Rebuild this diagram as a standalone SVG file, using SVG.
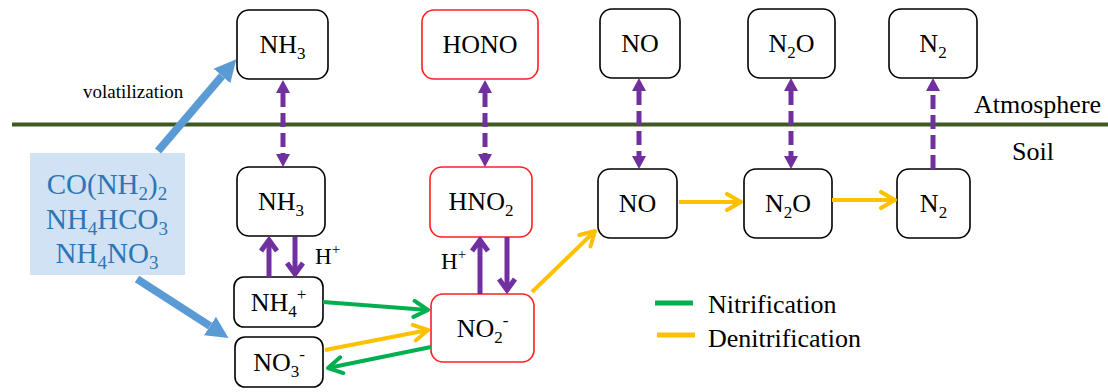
<svg xmlns="http://www.w3.org/2000/svg" width="1108" height="392" viewBox="0 0 1108 392">
  <defs>
    <marker id="triP" markerUnits="userSpaceOnUse" markerWidth="14" markerHeight="16" viewBox="0 -8 14 16" refX="0" refY="0" orient="auto">
      <path d="M0,-7 L13,0 L0,7 Z" fill="#7030a0"/>
    </marker>
    <marker id="triPs" markerUnits="userSpaceOnUse" markerWidth="14" markerHeight="16" viewBox="-14 -8 14 16" refX="0" refY="0" orient="auto">
      <path d="M0,-7 L-13,0 L0,7 Z" fill="#7030a0"/>
    </marker>
    <marker id="chevP" markerUnits="userSpaceOnUse" markerWidth="20" markerHeight="20" viewBox="-16 -10 20 20" refX="0" refY="0" orient="auto">
      <path d="M-11,-8 L0,0 L-11,8" fill="none" stroke="#7030a0" stroke-width="5"/>
    </marker>
    <marker id="chevG" markerUnits="userSpaceOnUse" markerWidth="20" markerHeight="20" viewBox="-17 -10 20 20" refX="0" refY="0" orient="auto">
      <path d="M-14,-8 L0,0 L-14,8" fill="none" stroke="#00b050" stroke-width="4" stroke-linecap="round" stroke-linejoin="round"/>
    </marker>
    <marker id="chevY" markerUnits="userSpaceOnUse" markerWidth="20" markerHeight="20" viewBox="-17 -10 20 20" refX="0" refY="0" orient="auto">
      <path d="M-14,-8 L0,0 L-14,8" fill="none" stroke="#ffc000" stroke-width="4" stroke-linecap="round" stroke-linejoin="round"/>
    </marker>
    <marker id="triB" markerUnits="userSpaceOnUse" markerWidth="24" markerHeight="26" viewBox="0 -13 24 26" refX="0" refY="0" orient="auto">
      <path d="M0,-11 L22,0 L0,11 Z" fill="#5b9bd5"/>
    </marker>
  </defs>

  <rect width="1108" height="392" fill="#fff"/>

  <!-- ground surface -->
  <line x1="12" y1="124.5" x2="1108" y2="124.5" stroke="#3e5a22" stroke-width="4"/>
  <text x="974" y="113" font-family="Liberation Serif" font-size="26">Atmosphere</text>
  <text x="1012" y="160" font-family="Liberation Serif" font-size="26">Soil</text>

  <!-- fertilizer source -->
  <g id="fertilizer">
    <rect x="30" y="153" width="155" height="122" fill="#d0e2f3"/>
    <text x="107" y="194" font-family="Liberation Serif" fill="#2e75b6" font-size="29" text-anchor="middle">CO(NH<tspan font-size="19" dy="6">2</tspan><tspan dy="-6">)</tspan><tspan font-size="19" dy="6">2</tspan></text>
    <text x="107" y="229" font-family="Liberation Serif" fill="#2e75b6" font-size="29" text-anchor="middle">NH<tspan font-size="19" dy="6">4</tspan><tspan dy="-6">HCO</tspan><tspan font-size="19" dy="6">3</tspan></text>
    <text x="107" y="263" font-family="Liberation Serif" fill="#2e75b6" font-size="29" text-anchor="middle">NH<tspan font-size="19" dy="6">4</tspan><tspan dy="-6">NO</tspan><tspan font-size="19" dy="6">3</tspan></text>
  </g>

  <!-- atmosphere species -->
  <g id="atm-nh3">
    <rect x="237" y="10" width="91" height="69" rx="12" fill="#fff" stroke="#000" stroke-width="1.6"/>
    <text x="282.5" y="53" font-family="Liberation Serif" font-size="26" text-anchor="middle">NH<tspan font-size="17" dy="6">3</tspan></text>
  </g>
  <g id="atm-hono">
    <rect x="422" y="10" width="116" height="69" rx="12" fill="#fff" stroke="#ff1f1f" stroke-width="1.6"/>
    <text x="480" y="53" font-family="Liberation Serif" font-size="26" text-anchor="middle">HONO</text>
  </g>
  <g id="atm-no">
    <rect x="600" y="9" width="80" height="69" rx="12" fill="#fff" stroke="#000" stroke-width="1.6"/>
    <text x="640" y="52" font-family="Liberation Serif" font-size="26" text-anchor="middle">NO</text>
  </g>
  <g id="atm-n2o">
    <rect x="748" y="9" width="87" height="69" rx="12" fill="#fff" stroke="#000" stroke-width="1.6"/>
    <text x="791.5" y="52" font-family="Liberation Serif" font-size="26" text-anchor="middle">N<tspan font-size="17" dy="6">2</tspan><tspan dy="-6">O</tspan></text>
  </g>
  <g id="atm-n2">
    <rect x="889" y="9" width="88" height="69" rx="12" fill="#fff" stroke="#000" stroke-width="1.6"/>
    <text x="933" y="52" font-family="Liberation Serif" font-size="26" text-anchor="middle">N<tspan font-size="17" dy="6">2</tspan></text>
  </g>

  <!-- soil species -->
  <g id="soil-nh3">
    <rect x="237" y="167" width="88" height="69" rx="12" fill="#fff" stroke="#000" stroke-width="1.6"/>
    <text x="281" y="210" font-family="Liberation Serif" font-size="26" text-anchor="middle">NH<tspan font-size="17" dy="6">3</tspan></text>
  </g>
  <g id="soil-hno2">
    <rect x="430" y="167" width="102" height="70" rx="12" fill="#fff" stroke="#ff1f1f" stroke-width="1.6"/>
    <text x="481" y="210" font-family="Liberation Serif" font-size="26" text-anchor="middle">HNO<tspan font-size="17" dy="6">2</tspan></text>
  </g>
  <g id="soil-no">
    <rect x="598" y="169" width="79" height="69" rx="12" fill="#fff" stroke="#000" stroke-width="1.6"/>
    <text x="637.5" y="212" font-family="Liberation Serif" font-size="26" text-anchor="middle">NO</text>
  </g>
  <g id="soil-n2o">
    <rect x="744" y="169" width="88" height="69" rx="12" fill="#fff" stroke="#000" stroke-width="1.6"/>
    <text x="788" y="212" font-family="Liberation Serif" font-size="26" text-anchor="middle">N<tspan font-size="17" dy="6">2</tspan><tspan dy="-6">O</tspan></text>
  </g>
  <g id="soil-n2">
    <rect x="897" y="169" width="73" height="69" rx="12" fill="#fff" stroke="#000" stroke-width="1.6"/>
    <text x="933.5" y="212" font-family="Liberation Serif" font-size="26" text-anchor="middle">N<tspan font-size="17" dy="6">2</tspan></text>
  </g>
  <g id="soil-nh4">
    <rect x="234" y="277" width="89" height="50" rx="10" fill="#fff" stroke="#000" stroke-width="1.6"/>
    <text x="278.5" y="311" font-family="Liberation Serif" font-size="26" text-anchor="middle">NH<tspan font-size="17" dy="6">4</tspan><tspan font-size="17" dy="-17">+</tspan></text>
  </g>
  <g id="soil-no3">
    <rect x="235" y="337" width="88" height="50" rx="10" fill="#fff" stroke="#000" stroke-width="1.6"/>
    <text x="279" y="371" font-family="Liberation Serif" font-size="26" text-anchor="middle">NO<tspan font-size="17" dy="6">3</tspan><tspan font-size="17" dy="-17">-</tspan></text>
  </g>
  <g id="soil-no2">
    <rect x="431" y="294" width="103" height="68" rx="12" fill="#fff" stroke="#ff1f1f" stroke-width="1.6"/>
    <text x="482.5" y="337" font-family="Liberation Serif" font-size="26" text-anchor="middle">NO<tspan font-size="17" dy="6">2</tspan><tspan font-size="17" dy="-17">-</tspan></text>
  </g>

  <!-- exchange and transformation paths -->
  <g id="connectors" fill="none">
    <!-- soil-atmosphere exchange -->
    <g stroke="#7030a0" stroke-width="5" stroke-dasharray="14 6">
      <line x1="283" y1="93" x2="283" y2="154" marker-start="url(#triPs)" marker-end="url(#triP)"/>
      <line x1="485" y1="93" x2="485" y2="154" marker-start="url(#triPs)" marker-end="url(#triP)"/>
      <line x1="639" y1="91" x2="639" y2="156" marker-start="url(#triPs)" marker-end="url(#triP)"/>
      <line x1="791" y1="91" x2="791" y2="156" marker-start="url(#triPs)" marker-end="url(#triP)"/>
      <line x1="933" y1="169" x2="933" y2="91" marker-end="url(#triP)"/>
    </g>

    <!-- acid-base equilibria -->
    <g stroke="#7030a0" stroke-width="5">
      <line x1="269" y1="277" x2="269" y2="240" marker-end="url(#chevP)"/>
      <line x1="295" y1="237" x2="295" y2="274" marker-end="url(#chevP)"/>
      <line x1="480" y1="294" x2="480" y2="240" marker-end="url(#chevP)"/>
      <line x1="507" y1="237" x2="507" y2="290" marker-end="url(#chevP)"/>
    </g>
    <text x="315" y="264" font-family="Liberation Serif" font-size="23" fill="#000">H<tspan font-size="15" dy="-10">+</tspan></text>
    <text x="441" y="269" font-family="Liberation Serif" font-size="23" fill="#000">H<tspan font-size="15" dy="-10">+</tspan></text>

    <!-- nitrification -->
    <g stroke="#00b050" stroke-width="4">
      <line x1="323" y1="302" x2="428" y2="310" marker-end="url(#chevG)"/>
      <line x1="431" y1="347" x2="328" y2="368" marker-end="url(#chevG)"/>
    </g>

    <!-- denitrification -->
    <g stroke="#ffc000" stroke-width="4">
      <line x1="325" y1="350" x2="428" y2="330" marker-end="url(#chevY)"/>
      <line x1="532" y1="292" x2="595" y2="231" marker-end="url(#chevY)"/>
      <line x1="679" y1="202" x2="741" y2="202" marker-end="url(#chevY)"/>
      <line x1="832" y1="200" x2="895" y2="200" marker-end="url(#chevY)"/>
    </g>

    <!-- fertilizer pathways -->
    <g stroke="#5b9bd5" stroke-width="8">
      <line x1="158" y1="151" x2="222" y2="76" marker-end="url(#triB)"/>
      <line x1="137" y1="279" x2="210" y2="326" marker-end="url(#triB)"/>
    </g>
    <text x="83" y="98" font-family="Liberation Serif" font-size="19" fill="#000">volatilization</text>
  </g>

  <!-- legend -->
  <g id="legend">
    <line x1="655" y1="303" x2="693" y2="303" stroke="#00b050" stroke-width="5"/>
    <line x1="657" y1="335" x2="695" y2="335" stroke="#ffc000" stroke-width="5"/>
    <text x="708" y="313" font-family="Liberation Serif" font-size="26">Nitrification</text>
    <text x="708" y="347" font-family="Liberation Serif" font-size="26">Denitrification</text>
  </g>
</svg>
